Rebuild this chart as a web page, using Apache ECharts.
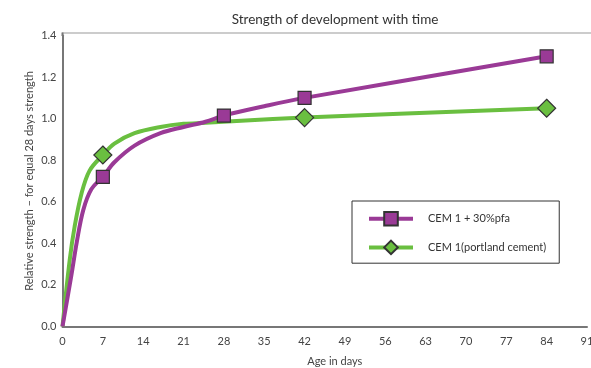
<!DOCTYPE html>
<html>
<head>
<meta charset="utf-8">
<script src="https://cdn.jsdelivr.net/npm/echarts@6/dist/echarts.min.js"></script>
<style>
html,body{margin:0;padding:0;background:#fff;}
#chart{width:591px;height:368px;}
</style>
</head>
<body>
<div id="chart"></div>
<script>
const titleText = 'Strength of development with time';
const xAxisName = 'Age in days';
const yAxisName = 'Relative strength \u2013 for equal 28 days strength';
const seriesNames = ['CEM 1 + 30%pfa', 'CEM 1(portland cement)'];

const pfaDays = [0, 1.5, 2.5, 3.6, 5, 7, 9, 12.5, 17, 21, 24.8, 28, 35, 42, 84];
const pfaVals = [0, 0.24, 0.41, 0.56, 0.66, 0.72, 0.79, 0.87, 0.93, 0.96, 0.985, 1.015, 1.06, 1.10, 1.30];
const pfaMarkerDays = [7, 28, 42, 84];

const pcDays = [0, 1.25, 2.1, 3.3, 4.7, 7, 9, 12.5, 17, 21, 24.8, 31, 42, 84];
const pcVals = [0, 0.32, 0.48, 0.64, 0.75, 0.825, 0.88, 0.93, 0.96, 0.975, 0.98, 0.99, 1.005, 1.05];
const pcMarkerDays = [7, 42, 84];

const FONT = 'Lato';
const PURPLE = '#9a3a96';
const GREEN = '#6abf40';

function build(days, vals, markers) {
  return days.map((d, i) => {
    const item = { value: [d, vals[i]] };
    if (markers.indexOf(d) < 0) item.symbol = 'none';
    return item;
  });
}

const chart = echarts.init(document.getElementById('chart'), null, { renderer: 'canvas' });
chart.setOption({
  animation: false,
  backgroundColor: '#fff',
  textStyle: { fontFamily: FONT },
  title: {
    text: titleText, left: 330, top: 8, textAlign: 'center',
    textStyle: { fontFamily: FONT, fontSize: 13.5, fontWeight: 'normal', color: '#333' }
  },
  grid: { left: 62.5, right: 4, top: 35.5, bottom: 41.5, containLabel: false, outerBoundsMode: 'none' },
  legend: {
    orient: 'vertical', left: 352, top: 201,
    backgroundColor: '#fff', borderColor: '#333', borderWidth: 1,
    padding: [10, 13, 8, 15], itemGap: 13, itemWidth: 44, itemHeight: 17,
    lineStyle: { width: 4 },
    textStyle: { fontFamily: FONT, fontSize: 11, color: '#333', padding: [0, 0, 0, 10] },
    data: seriesNames
  },
  xAxis: {
    type: 'value', min: 0, max: 91, interval: 7,
    name: xAxisName, nameLocation: 'middle', nameGap: 29, nameMoveOverlap: false,
    nameTextStyle: { fontFamily: FONT, fontSize: 11, color: '#444', padding: [0, 0, 0, 20] },
    axisLine: { show: true, lineStyle: { color: '#777', width: 2 } },
    axisTick: { show: false },
    splitLine: { show: false },
    axisLabel: { fontFamily: FONT, fontSize: 11, color: '#444', margin: 9 }
  },
  yAxis: {
    type: 'value', min: 0, max: 1.4, interval: 0.2,
    name: yAxisName, nameLocation: 'middle', nameGap: 28, nameRotate: 90, nameMoveOverlap: false,
    nameTextStyle: { fontFamily: FONT, fontSize: 11, color: '#444' },
    axisLine: { show: true, lineStyle: { color: '#777', width: 2 } },
    axisTick: { show: false },
    splitLine: { show: false },
    axisLabel: { fontFamily: FONT, fontSize: 11, color: '#444', margin: 6,
      formatter: v => v.toFixed(1) }
  },
  graphic: [
    { type: 'line', shape: { x1: 62, y1: 33, x2: 591, y2: 33 }, style: { stroke: '#bbb', lineWidth: 1.5 }, z: 1 },
    { type: 'line', shape: { x1: 62.5, y1: 32.5, x2: 62.5, y2: 36 }, style: { stroke: '#777', lineWidth: 2 }, z: 1 }
  ],
  series: [
    {
      name: seriesNames[0], type: 'line', smooth: 0.35,
      data: build(pfaDays, pfaVals, pfaMarkerDays),
      symbol: 'rect', symbolSize: 13, showAllSymbol: true,
      lineStyle: { color: PURPLE, width: 4 },
      itemStyle: { color: PURPLE, borderColor: '#333', borderWidth: 1.2 },
      z: 3
    },
    {
      name: seriesNames[1], type: 'line', smooth: 0.35,
      data: build(pcDays, pcVals, pcMarkerDays),
      symbol: 'diamond', symbolSize: 18, showAllSymbol: true,
      lineStyle: { color: GREEN, width: 4 },
      itemStyle: { color: GREEN, borderColor: '#333', borderWidth: 1.2 },
      z: 2
    }
  ]
});
</script>
</body>
</html>
